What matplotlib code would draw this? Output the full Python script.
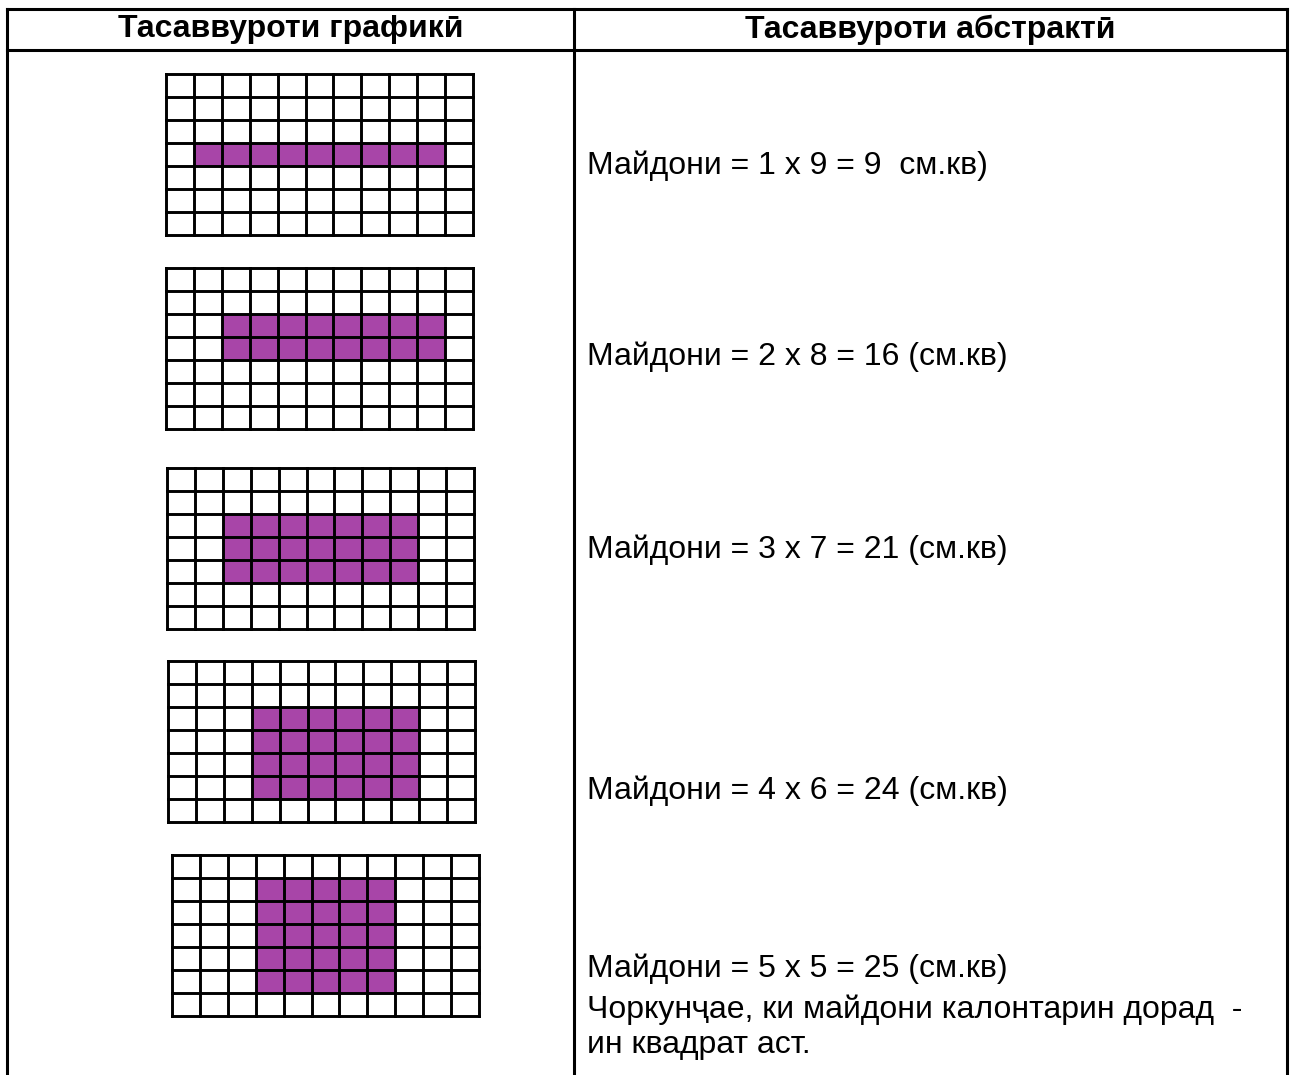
import matplotlib
matplotlib.use("Agg")
import matplotlib.pyplot as plt
from matplotlib.patches import Rectangle

plt.rcParams['font.family'] = ['Liberation Sans', 'DejaVu Sans']

# table headers
headers = ["Тасаввуроти графикӣ", "Тасаввуроти абстрактӣ"]

# each grid is 7 x 11 cells, with a shaded rectangle inside
n_rows, n_cols = 7, 11
shade_h = [1, 2, 3, 4, 5]
shade_w = [9, 8, 7, 6, 5]
shade_row0 = [3, 2, 2, 2, 1]
shade_col0 = [1, 2, 2, 3, 3]

area_labels = [
    "Майдони = 1 x 9 = 9  см.кв)",
    "Майдони = 2 x 8 = 16 (см.кв)",
    "Майдони = 3 x 7 = 21 (см.кв)",
    "Майдони = 4 x 6 = 24 (см.кв)",
    "Майдони = 5 x 5 = 25 (см.кв)",
]
conclusion = ["Чоркунҷае, ки майдони калонтарин дорад  -", "ин квадрат аст."]

# layout in pixels
W, H = 1292, 1075
grid_left = [166, 166, 167, 168, 172]
grid_top = [74, 268, 468, 661, 855]
grid_w, grid_h = 307, 161
label_y = [166, 357, 550, 791, 969]
conclusion_y = [1010, 1045]

purple = "#a845a8"

fig = plt.figure(figsize=(W / 100, H / 100), dpi=100)
ax = fig.add_axes([0, 0, 1, 1])
ax.set_xlim(0, W)
ax.set_ylim(H, 0)
ax.axis("off")

# table frame
x_l, x_m, x_r = 7, 574, 1287
y_t, y_h = 9, 50
lw_tab = 2.2
ax.plot([x_l, x_r], [y_t, y_t], color="black", lw=lw_tab, solid_capstyle="projecting")
ax.plot([x_l, x_r], [y_h, y_h], color="black", lw=lw_tab, solid_capstyle="projecting")
for x in (x_l, x_m, x_r):
    ax.plot([x, x], [y_t, H + 5], color="black", lw=lw_tab, solid_capstyle="projecting")

ax.text((x_l + x_m) / 2, (y_t + y_h) / 2, headers[0], ha="center", va="center",
        fontsize=23, fontweight="bold")
ax.text((x_m + x_r) / 2, (y_t + y_h) / 2, headers[1], ha="center", va="center",
        fontsize=23, fontweight="bold")

# grids
for i in range(len(shade_h)):
    x0, y0 = grid_left[i], grid_top[i]
    cw = grid_w / n_cols
    ch = grid_h / n_rows
    ax.add_patch(Rectangle((x0 + shade_col0[i] * cw, y0 + shade_row0[i] * ch),
                           shade_w[i] * cw, shade_h[i] * ch,
                           facecolor=purple, edgecolor="none", zorder=1))
    for c in range(n_cols + 1):
        ax.plot([x0 + c * cw, x0 + c * cw], [y0, y0 + grid_h], color="black",
                lw=2.1, solid_capstyle="projecting", zorder=2)
    for r in range(n_rows + 1):
        ax.plot([x0, x0 + grid_w], [y0 + r * ch, y0 + r * ch], color="black",
                lw=2.1, solid_capstyle="projecting", zorder=2)

# formulas
for lab, y in zip(area_labels, label_y):
    ax.text(587, y, lab, ha="left", va="center", fontsize=23)
for lab, y in zip(conclusion, conclusion_y):
    ax.text(587, y, lab, ha="left", va="center", fontsize=23)

fig.savefig("out.png", dpi=100, facecolor="white")
